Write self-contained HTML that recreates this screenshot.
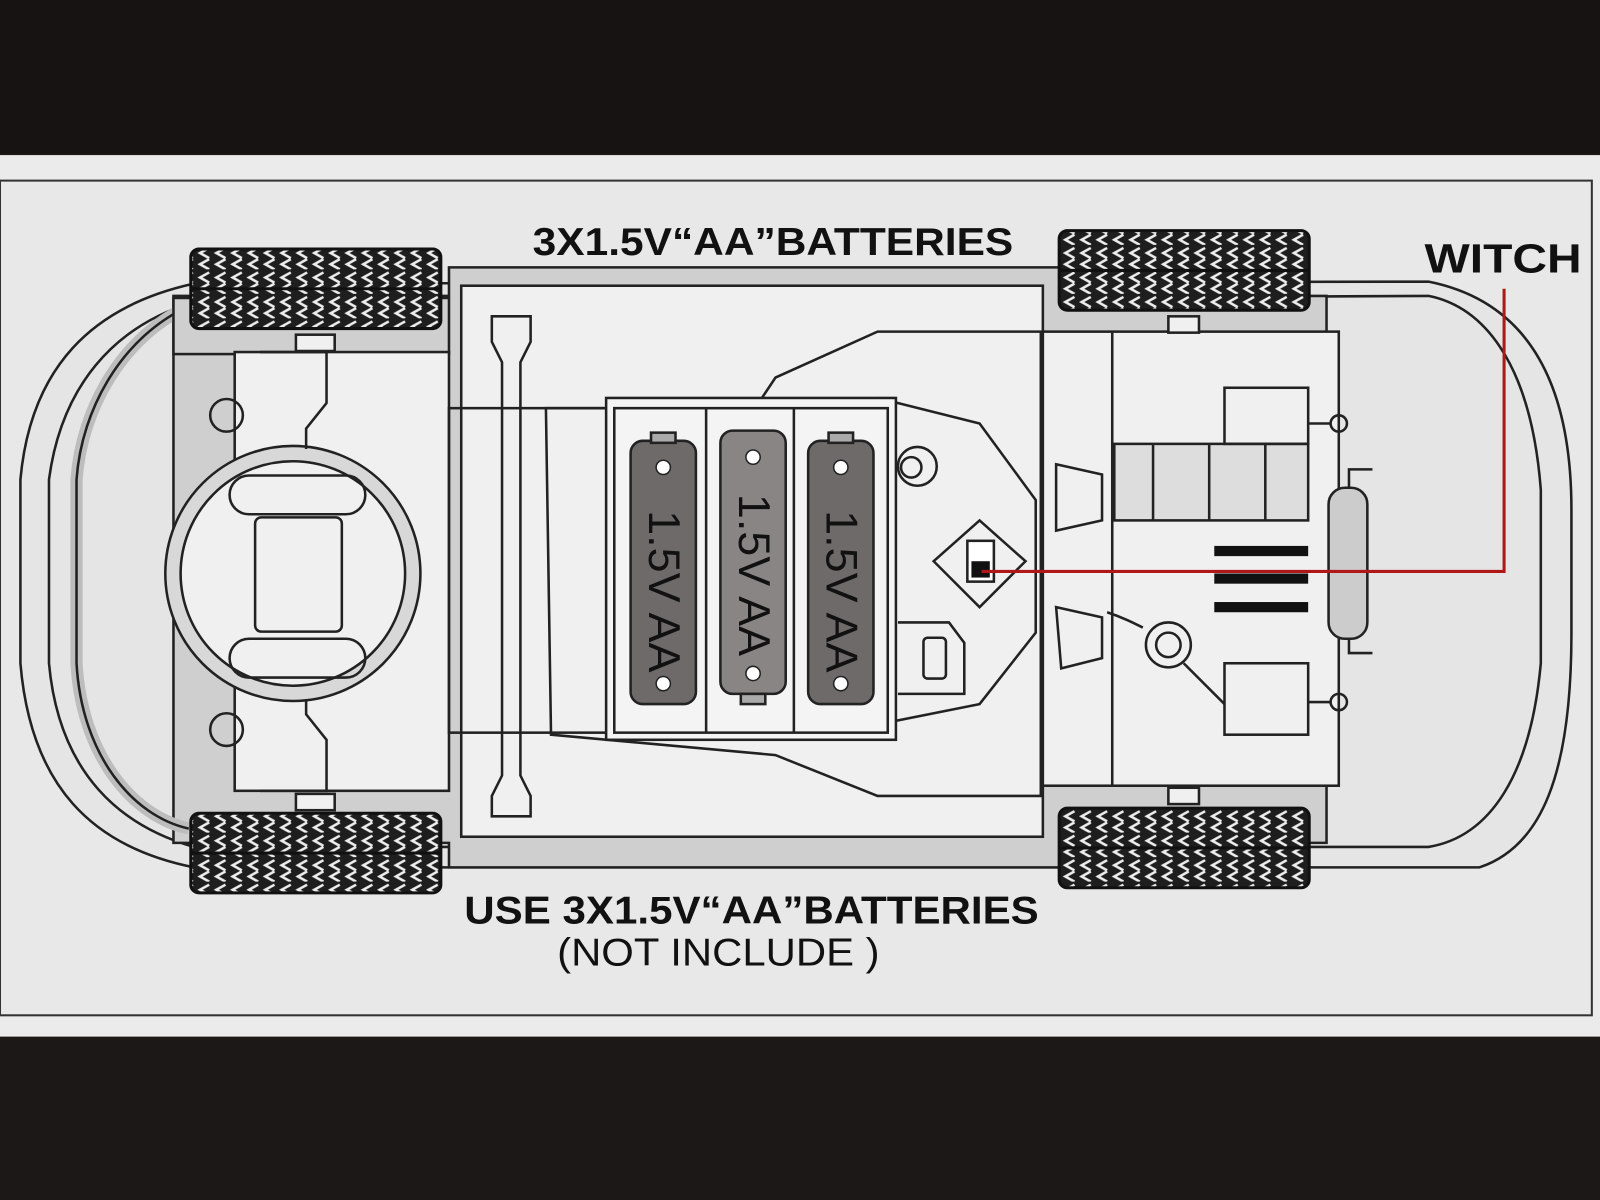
<!DOCTYPE html>
<html><head><meta charset="utf-8"><style>
html,body{margin:0;padding:0;background:#1a1616;}
svg{display:block}
text{font-family:"Liberation Sans",Arial,sans-serif}
</style></head><body>
<svg width="1600" height="1200" viewBox="0 0 1568 1176" preserveAspectRatio="none" xmlns="http://www.w3.org/2000/svg">
<defs>
<pattern id="tread" width="16" height="24" patternUnits="userSpaceOnUse">
<rect width="16" height="24" fill="#1e1e1e"/>
<path d="M13 3 L4 8 L13 13 M13 14 L4 19 L13 24" stroke="#eee" stroke-width="2.5" fill="none"/>
</pattern>
</defs>
<rect width="1568" height="1176" fill="#1c1818"/>
<rect x="0" y="0" width="1568" height="150" fill="#181313"/>
<rect x="0" y="152" width="1568" height="864" fill="#ecebeb"/>
<rect x="0" y="177" width="1560" height="818" fill="#e9e8e8" stroke="#333" stroke-width="2"/>
<rect x="0" y="1016" width="1568" height="160" fill="#1d1818"/>

<g stroke="#222" stroke-width="2.5" fill="none">
<path d="M190 278 C90 300 30 360 20 470 L20 650 C30 770 90 830 190 850 L1450 850 C1510 830 1540 760 1540 620 L1540 500 C1540 340 1470 290 1400 276 Z" fill="#e6e5e5"/>
<path d="M190 296 C110 320 60 380 48 470 L48 650 C58 760 120 810 190 830 L1400 830 C1460 820 1500 760 1510 650 L1510 480 C1500 350 1450 300 1400 290 Z"/>
<path d="M170 290 L440 290 L440 262 L1040 262 L1040 290 L1300 290 L1300 826 L1040 826 L1040 850 L440 850 L440 826 L170 826 Z" fill="#cfcfcf"/>
<path d="M185 300 C120 330 80 400 75 470 L75 650 C80 740 130 800 185 812" stroke-width="12" stroke="#bdbdbd"/>
<path d="M185 300 C120 330 80 400 75 470 L75 650 C80 740 130 800 185 812"/>
<rect x="170" y="292" width="270" height="55" fill="#cfcfcf"/>
<rect x="452" y="280" width="570" height="540" fill="#f1f0f0"/>
<rect x="1022" y="325" width="290" height="445" fill="#f1f0f0"/>
<rect x="230" y="345" width="210" height="430" fill="#f1f0f0"/>
<circle cx="222" cy="407" r="16"/><circle cx="222" cy="715" r="16"/>
<circle cx="287" cy="562" r="125" fill="#d8d8d8"/>
<circle cx="287" cy="562" r="110" fill="#f1f0f0"/>
<rect x="225" y="466" width="133" height="38" rx="19"/>
<rect x="225" y="626" width="133" height="38" rx="19"/>
<rect x="250" y="507" width="85" height="112" rx="6"/>
<path d="M255 345 L320 345 L320 395 L300 420 L300 440 M255 775 L320 775 L320 725 L300 700 L300 685"/>
<rect x="290" y="328" width="38" height="16" fill="#f1f0f0"/>
<rect x="290" y="778" width="38" height="16" fill="#f1f0f0"/>
<path d="M482 310 L520 310 L520 335 L510 355 L510 760 L520 780 L520 800 L482 800 L482 780 L492 760 L492 355 L482 335 Z" fill="#f1f0f0"/>
<path d="M535 400 L740 400 L760 370 L860 325 L1020 325 L1020 780 L860 780 L760 740 L540 720 Z"/>
<path d="M860 390 L960 415 L1015 490 L1015 620 L960 690 L860 710"/>
<rect x="440" y="400" width="155" height="318"/>
<rect x="880" y="438" width="38" height="38" rx="19"/>
<circle cx="893" cy="458" r="10"/>
<path d="M880 610 L930 610 L945 630 L945 680 L880 680"/>
<rect x="905" y="625" width="22" height="40" rx="4"/>
<path d="M915 550 L960 510 L1005 550 L960 595 Z"/>
<rect x="948" y="530" width="26" height="40" fill="#fff"/>
<rect x="952" y="550" width="18" height="16" fill="#111" stroke="none"/>
<rect x="594" y="390" width="284" height="335" fill="#f4f4f4"/>
<rect x="602" y="400" width="268" height="318"/>
<line x1="692" y1="400" x2="692" y2="718"/><line x1="778" y1="400" x2="778" y2="718"/>
<path d="M1090 325 L1090 770"/>
<path d="M1035 455 L1080 465 L1080 510 L1035 520 Z"/>
<path d="M1035 595 L1080 605 L1080 645 L1040 655 Z"/>
<rect x="1092" y="435" width="190" height="75" fill="#ddd"/>
<line x1="1130" y1="435" x2="1130" y2="510"/><line x1="1185" y1="435" x2="1185" y2="510"/><line x1="1240" y1="435" x2="1240" y2="510"/>
<rect x="1200" y="380" width="82" height="55"/>
<rect x="1200" y="650" width="82" height="70"/>
<circle cx="1312" cy="415" r="8"/><circle cx="1312" cy="688" r="8"/>
<line x1="1282" y1="415" x2="1304" y2="415"/><line x1="1282" y1="688" x2="1304" y2="688"/>
<rect x="1302" y="478" width="38" height="148" rx="16" fill="#ccc"/>
<path d="M1322 478 L1322 460 L1345 460 M1322 626 L1322 640 L1345 640"/>
<circle cx="1145" cy="632" r="22"/><circle cx="1145" cy="632" r="12"/>
<path d="M1160 650 L1200 690"/>
<path d="M1085 600 C1100 605 1110 610 1120 615"/>
<rect x="1145" y="310" width="30" height="16" fill="#f1f0f0"/>
<rect x="1145" y="772" width="30" height="16" fill="#f1f0f0"/>
</g>
<g fill="#111"><rect x="1190" y="535" width="92" height="10"/><rect x="1190" y="562" width="92" height="10"/><rect x="1190" y="590" width="92" height="10"/></g>

<g stroke="#222" stroke-width="2.5">
<rect x="618" y="432" width="64" height="258" rx="12" fill="#6e6a6a"/>
<rect x="706" y="422" width="64" height="258" rx="12" fill="#8a8585"/>
<rect x="792" y="432" width="64" height="258" rx="12" fill="#6e6a6a"/>
<rect x="638" y="424" width="24" height="10" fill="#aaa"/>
<rect x="726" y="680" width="24" height="10" fill="#aaa"/>
<rect x="812" y="424" width="24" height="10" fill="#aaa"/>
</g>
<g fill="#111" font-size="44">
<text transform="translate(636,500) rotate(90)">1.5V AA</text>
<text transform="translate(724,484) rotate(90)">1.5V AA</text>
<text transform="translate(810,500) rotate(90)">1.5V AA</text>
</g>
<g fill="#fff" stroke="#222" stroke-width="1.5"><circle cx="650" cy="458" r="7"/><circle cx="650" cy="670" r="7"/><circle cx="738" cy="448" r="7"/><circle cx="738" cy="660" r="7"/><circle cx="824" cy="458" r="7"/><circle cx="824" cy="670" r="7"/></g>

<g stroke="#111" stroke-width="3">
<rect x="187" y="244" width="245" height="78" rx="8" fill="url(#tread)"/>
<rect x="1038" y="226" width="245" height="78" rx="8" fill="url(#tread)"/>
<rect x="187" y="797" width="245" height="78" rx="8" fill="url(#tread)"/>
<rect x="1038" y="792" width="245" height="78" rx="8" fill="url(#tread)"/>
</g>
<g stroke="#111" stroke-width="3"><line x1="187" y1="283" x2="432" y2="283"/><line x1="1038" y1="265" x2="1283" y2="265"/><line x1="187" y1="836" x2="432" y2="836"/><line x1="1038" y1="831" x2="1283" y2="831"/></g>

<polyline points="962,560 1474,560 1474,283" fill="none" stroke="#b01818" stroke-width="3"/>

<g fill="#111" font-weight="bold">
<text x="522" y="250" font-size="38" textLength="471" lengthAdjust="spacingAndGlyphs">3X1.5V“AA”BATTERIES</text>
<text x="1396" y="267" font-size="40" textLength="154" lengthAdjust="spacingAndGlyphs">WITCH</text>
<text x="455" y="905" font-size="38" textLength="563" lengthAdjust="spacingAndGlyphs">USE 3X1.5V“AA”BATTERIES</text>
</g>
<text x="546" y="946" font-size="38" fill="#111" textLength="316" lengthAdjust="spacingAndGlyphs">(NOT INCLUDE )</text>
</svg>
</body></html>
